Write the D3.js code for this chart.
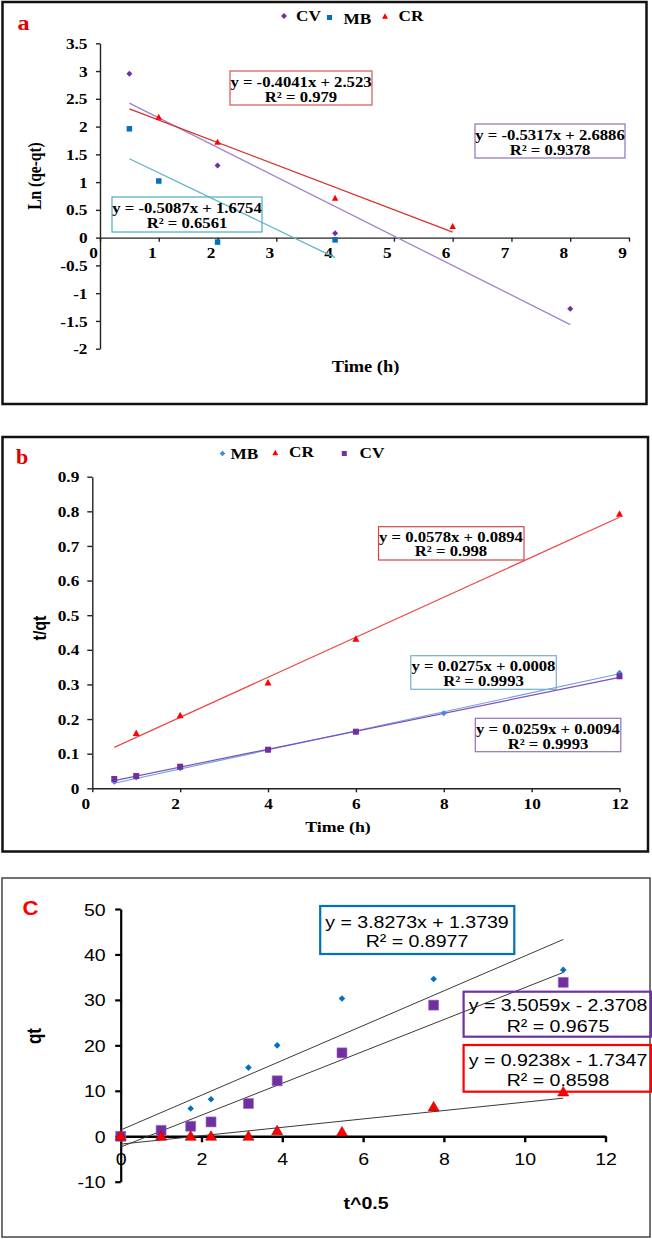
<!DOCTYPE html>
<html><head><meta charset="utf-8">
<script src="https://cdn.jsdelivr.net/npm/d3@7"></script>
<style>body{margin:0;background:#fff}svg{display:block}</style>
</head><body>
<svg id="chart" width="652" height="1239"></svg>
<script>
// ---------------- DATA ----------------
// Panel a : pseudo-first-order
const aSeries = ["CV", "MB", "CR"];
const aCVTime = [0.5, 2, 4, 8];
const aCV = [2.95, 1.30, 0.08, -1.28];
const aMBTime = [0.5, 1, 2, 4];
const aMB = [1.96, 1.02, -0.08, -0.04];
const aCRTime = [1, 2, 4, 6];
const aCR = [2.17, 1.72, 0.71, 0.20];
const aSlopes = [-0.5317, -0.5087, -0.4041];
const aIntercepts = [2.6886, 1.6754, 2.523];
const aR2 = ["0.9378", "0.6561", "0.979"];
const aFitFrom = [0.5, 0.5, 0.5];
const aFitTo = [8, 4, 6];
const aXTicks = [0, 1, 2, 3, 4, 5, 6, 7, 8, 9];
const aYTicks = [-2, -1.5, -1, -0.5, 0, 0.5, 1, 1.5, 2, 2.5, 3, 3.5];

// Panel b : pseudo-second-order
const bSeries = ["MB", "CR", "CV"];
const bMBTime = [0.5, 1, 2, 4, 6, 8, 12];
const bMB = [0.019, 0.031, 0.058, 0.1115, 0.1635, 0.2166, 0.334];
const bCRTime = [1, 2, 4, 6, 12];
const bCR = [0.159, 0.21, 0.305, 0.431, 0.792];
const bCVTime = [0.5, 1, 2, 4, 6, 12];
const bCV = [0.027, 0.0355, 0.0624, 0.1115, 0.1635, 0.3235];
const bSlopes = [0.0275, 0.0578, 0.0259];
const bIntercepts = [0.0008, 0.0894, 0.0094];
const bR2 = ["0.9993", "0.998", "0.9993"];
const bFitFrom = [0.5, 0.5, 0.5];
const bFitTo = [12, 12, 12];
const bXTicks = [0, 2, 4, 6, 8, 10, 12];
const bYTicks = [0, 0.1, 0.2, 0.3, 0.4, 0.5, 0.6, 0.7, 0.8, 0.9];

// Panel c : intraparticle diffusion
const cSqrtT = [0, 1, 1.732, 2.236, 3.162, 3.873, 5.477, 7.746, 10.954];
const cMB = [0, 1.0, 6.1, 8.15, 15.1, 20.0, 30.3, 34.6, 36.6];
const cCV = [0, 1.3, 2.2, 3.15, 7.2, 12.2, 18.35, 28.85, 33.85];
const cCR = [0, 0, 0, 0, 0, 1.2, 0.95, 6.45, 9.75];
const cSlopes = [3.8273, 3.5059, 0.9238];
const cIntercepts = [1.3739, -2.3708, -1.7347];
const cR2 = ["0.8977", "0.9675", "0.8598"];
const cXTicks = [0, 2, 4, 6, 8, 10, 12];
const cYTicks = [-10, 0, 10, 20, 30, 40, 50];

// ---------------- HELPERS ----------------
const SX = 1.15;
const SERIF = "'Liberation Serif','Times New Roman',serif";
const SANS = "'Liberation Sans',Arial,sans-serif";
const svg = d3.select("#chart");
svg.append("rect").attr("width", 652).attr("height", 1239).attr("fill", "#fff");

function T(g, x, y, s, o = {}) {
  return g.append("text")
    .attr("transform", `translate(${x},${y}) scale(${o.sx ?? SX},1)${o.rot ? ` rotate(${o.rot})` : ""}`)
    .attr("text-anchor", o.anchor || "middle")
    .attr("dominant-baseline", "central")
    .style("font-family", o.font || SERIF)
    .style("font-size", (o.size || 14) + "px")
    .style("font-weight", o.weight || "bold")
    .attr("fill", o.fill || "#000")
    .text(s);
}
function shapePath(type, w, h) {
  if (type === "diamond") return `M0,${-h}L${w},0L0,${h}L${-w},0Z`;
  if (type === "square") return `M${-w / 2},${-h / 2}h${w}v${h}h${-w}Z`;
  return `M0,${-h * 0.58}L${w / 2},${h * 0.42}L${-w / 2},${h * 0.42}Z`;
}
function markers(g, xs, ys, xS, yS, type, w, h, fill, stroke) {
  g.selectAll(null).data(xs.map((x, i) => [x, ys[i]])).enter().append("path")
    .attr("d", shapePath(type, w, h))
    .attr("transform", d => `translate(${xS(d[0])},${yS(d[1])})`)
    .attr("fill", fill).attr("stroke", stroke || "none").attr("stroke-width", 0.6);
}
function fitLine(g, xS, yS, m, b, x0, x1, color, width) {
  const pts = [x0, x1].map(x => [xS(x), yS(m * x + b)]);
  g.append("path").attr("d", d3.line()(pts)).attr("fill", "none")
    .attr("stroke", color).attr("stroke-width", width);
}
function eqText(m, b) {
  return `y = ${m}x ${b < 0 ? "-" : "+"} ${Math.abs(b)}`;
}
const fmt = d => String(d);
function styleAxis(ax, color, width) {
  ax.select(".domain").attr("stroke", color).attr("stroke-width", width);
  ax.selectAll(".tick line").attr("stroke", color).attr("stroke-width", width);
}
function styleTicks(ax, dx, dy, anchor, font, size, weight) {
  ax.selectAll(".tick text")
    .attr("x", null).attr("y", null).attr("dy", null)
    .attr("transform", `translate(${dx},${dy}) scale(${SX},1)`)
    .attr("text-anchor", anchor).attr("dominant-baseline", "central")
    .attr("fill", "#000")
    .style("font-family", font).style("font-size", size + "px").style("font-weight", weight);
  ax.attr("font-size", null).attr("font-family", null);
}
function box(g, x0, y0, x1, y1, color, width) {
  g.append("rect").attr("x", x0).attr("y", y0).attr("width", x1 - x0).attr("height", y1 - y0)
    .attr("fill", "none").attr("stroke", color).attr("stroke-width", width);
}

// ================= PANEL A =================
{
  const g = svg.append("g");
  box(g, 2.5, 2, 646.5, 404, "#111", 2.5);
  const x = d3.scaleLinear().domain([0, 9]).range([100, 629]);
  const y = d3.scaleLinear().domain([-2, 3.5]).range([348.7, 43.3]);

  const ax = g.append("g").attr("transform", `translate(0,${y(0)})`)
    .call(d3.axisBottom(x).tickValues(aXTicks).tickSize(4).tickSizeOuter(0).tickFormat(fmt));
  styleAxis(ax, "#222", 1.4);
  styleTicks(ax, -7, 15.5, "middle", SERIF, 15, "bold");

  const ay = g.append("g").attr("transform", `translate(${x(0)},0)`)
    .call(d3.axisLeft(y).tickValues(aYTicks).tickSize(4).tickSizeOuter(0).tickFormat(fmt));
  styleAxis(ay, "#222", 1.4);
  styleTicks(ay, -12.5, 0, "end", SERIF, 15, "bold");

  const lineCol = ["#A084CF", "#5DB3C6", "#D9302C"];
  aSeries.forEach((s, i) => fitLine(g, x, y, aSlopes[i], aIntercepts[i], aFitFrom[i], aFitTo[i], lineCol[i], 1.3));

  markers(g, aCVTime, aCV, x, y, "diamond", 3, 3, "#7030A0");
  markers(g, aMBTime, aMB, x, y, "square", 5.5, 5.5, "#0070C0");
  markers(g, aCRTime, aCR, x, y, "triangle", 6.5, 6, "#FF0000");

  box(g, 230, 71, 372, 105, "#D9534F", 1.2);
  T(g, 301, 82, eqText(aSlopes[2], aIntercepts[2]), { size: 14.5 });
  T(g, 301, 97, `R² = ${aR2[2]}`, { size: 14.5 });
  box(g, 475, 124, 625, 158, "#8E72B2", 1.2);
  T(g, 550, 135, eqText(aSlopes[0], aIntercepts[0]), { size: 14.5 });
  T(g, 550, 149.5, `R² = ${aR2[0]}`, { size: 14.5 });
  box(g, 112, 197, 262, 232, "#4BACC6", 1.2);
  T(g, 187, 207.5, eqText(aSlopes[1], aIntercepts[1]), { size: 14.5 });
  T(g, 187, 222.5, `R² = ${aR2[1]}`, { size: 14.5 });

  const lg = g.append("g");
  lg.append("path").attr("d", shapePath("diamond", 3, 3)).attr("transform", "translate(284,16)").attr("fill", "#7030A0");
  T(lg, 296, 16, aSeries[0], { anchor: "start", size: 15 });
  lg.append("path").attr("d", shapePath("square", 5, 5)).attr("transform", "translate(329.5,17.5)").attr("fill", "#0070C0");
  T(lg, 343.5, 18.5, aSeries[1], { anchor: "start", size: 15 });
  lg.append("path").attr("d", shapePath("triangle", 6, 5.5)).attr("transform", "translate(385,16.5)").attr("fill", "#FF0000");
  T(lg, 398.5, 16, aSeries[2], { anchor: "start", size: 15 });

  T(g, 23.5, 22, "a", { size: 22, fill: "#E00000", sx: 1.1 });
  T(g, 365.5, 366.5, "Time (h)", { size: 16 });
  T(g, 35, 176, "Ln (qe-qt)", { size: 15.5, rot: -90 });
}

// ================= PANEL B =================
{
  const g = svg.append("g");
  box(g, 2.5, 437, 648, 851.5, "#111", 2.5);
  const x = d3.scaleLinear().domain([0, 12]).range([92.3, 619.5]);
  const y = d3.scaleLinear().domain([0, 0.9]).range([788.3, 476.7]);

  const ax = g.append("g").attr("transform", `translate(0,${y(0)})`)
    .call(d3.axisBottom(x).tickValues(bXTicks).tickSize(4).tickSizeOuter(0).tickFormat(fmt));
  styleAxis(ax, "#222", 1.4);
  styleTicks(ax, 0, 15.5, "middle", SERIF, 15, "bold");
  ax.selectAll(".tick text").filter(d => d === 0).attr("transform", `translate(-7,15.5) scale(${SX},1)`);
  ax.selectAll(".tick text").filter(d => d === 2).attr("transform", `translate(-5,15.5) scale(${SX},1)`);

  const ay = g.append("g").attr("transform", `translate(${x(0)},0)`)
    .call(d3.axisLeft(y).tickValues(bYTicks).tickSize(5).tickSizeOuter(0).tickFormat(fmt));
  styleAxis(ay, "#222", 1.4);
  styleTicks(ay, -13, 0, "end", SERIF, 15, "bold");

  const lineCol = ["#6FA3DC", "#F04545", "#7F4FC2"];
  bSeries.forEach((s, i) => fitLine(g, x, y, bSlopes[i], bIntercepts[i], bFitFrom[i], bFitTo[i], lineCol[i], 1.2));

  markers(g, bMBTime, bMB, x, y, "diamond", 3, 3, "#4A86D8");
  markers(g, bCVTime, bCV, x, y, "square", 6, 6, "#7030A0");
  markers(g, bCRTime, bCR, x, y, "triangle", 7, 6.5, "#FF0000");

  box(g, 378.5, 526.7, 524, 560, "#D04848", 1.2);
  T(g, 451, 536.5, eqText(bSlopes[1], bIntercepts[1]), { size: 14.5 });
  T(g, 451, 551, `R² = ${bR2[1]}`, { size: 14.5 });
  box(g, 410.8, 655.7, 556.3, 689.3, "#78AECB", 1.2);
  T(g, 483.5, 666, eqText(bSlopes[0], bIntercepts[0]), { size: 14.5 });
  T(g, 483.5, 681, `R² = ${bR2[0]}`, { size: 14.5 });
  box(g, 475.3, 718.3, 620.8, 751.7, "#9272B8", 1.2);
  T(g, 548, 728.5, eqText(bSlopes[2], bIntercepts[2]), { size: 14.5 });
  T(g, 548, 744, `R² = ${bR2[2]}`, { size: 14.5 });

  const lg = g.append("g");
  lg.append("path").attr("d", shapePath("diamond", 2.8, 2.8)).attr("transform", "translate(222.5,453.5)").attr("fill", "#4A86D8");
  T(lg, 230.5, 453.5, bSeries[0], { anchor: "start", size: 15 });
  lg.append("path").attr("d", shapePath("triangle", 6, 5.5)).attr("transform", "translate(275.3,453)").attr("fill", "#FF0000");
  T(lg, 289, 452, bSeries[1], { anchor: "start", size: 15 });
  lg.append("path").attr("d", shapePath("square", 5, 5)).attr("transform", "translate(344.3,453.5)").attr("fill", "#7030A0");
  T(lg, 359.5, 452.5, bSeries[2], { anchor: "start", size: 15 });

  T(g, 22, 457.5, "b", { size: 20, fill: "#E00000", sx: 1.1 });
  T(g, 338, 826.5, "Time (h)", { size: 15.5 });
  T(g, 39.5, 628, "t/qt", { size: 16, rot: -90, font: SANS });
}

// ================= PANEL C =================
{
  const g = svg.append("g");
  box(g, 2, 878, 650, 1237, "#444", 1.5);
  const x = d3.scaleLinear().domain([0, 12]).range([120.7, 605.5]);
  const y = d3.scaleLinear().domain([-10, 50]).range([1181.7, 909]);

  const ay = g.append("g").attr("transform", `translate(${x(0)},0)`)
    .call(d3.axisLeft(y).tickValues(cYTicks).tickSize(5.5).tickSizeOuter(0).tickFormat(fmt));
  styleAxis(ay, "#000", 2.2);
  styleTicks(ay, -15, 0, "end", SANS, 17, "normal");

  const ax = g.append("g").attr("transform", `translate(0,${y(0)})`)
    .call(d3.axisBottom(x).tickValues(cXTicks).tickSize(6).tickSizeOuter(0).tickFormat(fmt));
  styleAxis(ax, "#000", 2.4);
  styleTicks(ax, 0, 22.5, "middle", SANS, 17, "normal");

  cSlopes.forEach((m, i) => fitLine(g, x, y, m, cIntercepts[i], 0, cSqrtT[cSqrtT.length - 1], "#3a3a3a", 1));

  markers(g, cSqrtT, cMB, x, y, "diamond", 3.3, 3.3, "#0070C0");
  markers(g, cSqrtT, cCV, x, y, "square", 10, 10, "#7030A0", "#9B6BC8");
  markers(g, cSqrtT, cCR, x, y, "triangle", 11, 9.5, "#FF0000", "#B00000");

  box(g, 320.2, 906, 514.3, 954, "#0070C0", 2.2);
  T(g, 417, 922, eqText(cSlopes[0], cIntercepts[0]), { font: SANS, size: 17, weight: "normal" });
  T(g, 417, 941, `R² = ${cR2[0]}`, { font: SANS, size: 17, weight: "normal" });
  box(g, 463.6, 991.7, 651, 1036.7, "#7030A0", 2.2);
  T(g, 558, 1005, eqText(cSlopes[1], cIntercepts[1]), { font: SANS, size: 17, weight: "normal" });
  T(g, 558, 1025.5, `R² = ${cR2[1]}`, { font: SANS, size: 17, weight: "normal" });
  box(g, 463.6, 1045, 651, 1091.7, "#FF0000", 2.2);
  T(g, 558, 1059.5, eqText(cSlopes[2], cIntercepts[2]), { font: SANS, size: 17, weight: "normal" });
  T(g, 558, 1079.5, `R² = ${cR2[2]}`, { font: SANS, size: 17, weight: "normal" });

  T(g, 30.5, 908, "C", { font: SANS, size: 21, fill: "#FF0000", sx: 1.05 });
  T(g, 366, 1202.5, "t^0.5", { font: SANS, size: 17 });
  T(g, 34, 1036, "qt", { font: SANS, size: 17, rot: -90 });
}
</script>
</body></html>
